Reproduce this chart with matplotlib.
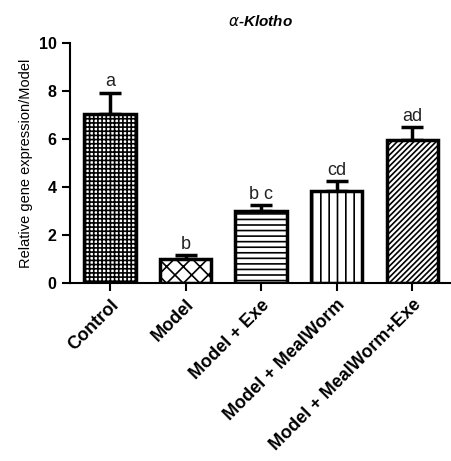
import matplotlib.pyplot as plt

plt.rcParams['font.family'] = ['Liberation Sans', 'DejaVu Sans']
plt.rcParams['hatch.linewidth'] = 1.2

groups = ['Control', 'Model', 'Model + Exe', 'Model + MealWorm', 'Model + MealWorm+Exe']
means = [7.05, 1.0, 3.0, 3.83, 5.96]
sems = [0.87, 0.16, 0.23, 0.4, 0.52]
letters = ['a', 'b', 'b c', 'cd', 'ad']
hatches = ['++++', 'xx', '---', '||', '//////']

fig = plt.figure(figsize=(4.51, 4.61), dpi=100)
ax = fig.add_axes([0.155, 0.386, 0.843, 0.521])

x = list(range(len(groups)))
# upward error bars only
ax.errorbar(x, means, yerr=[[0] * len(sems), sems], fmt='none', ecolor='black',
            elinewidth=2.5, capsize=8, capthick=2.5, zorder=1)
bars = ax.bar(x, means, width=0.68, color='white', edgecolor='black', linewidth=2.5, zorder=2)
for b, h in zip(bars, hatches):
    b.set_hatch(h)
for i, (m, s) in enumerate(zip(means, sems)):
    ax.text(i, m + s + 0.1, letters[i], ha='center', va='bottom', fontsize=13, color='#222222')

ax.set_xlim(-0.53, 4.5)
ax.set_ylim(0, 10)
ax.set_yticks([0, 2, 4, 6, 8, 10])
ax.set_xticks(x)
ax.set_xticklabels(groups, rotation=45, ha='right', rotation_mode='anchor', fontsize=13, fontweight='bold')
for lab in ax.get_yticklabels():
    lab.set_fontweight('bold')
    lab.set_fontsize(11.5)
ax.tick_params(axis='both', direction='out', length=6, width=1.5)
ax.spines['top'].set_visible(False)
ax.spines['right'].set_visible(False)
ax.spines['left'].set_linewidth(1.5)
ax.spines['bottom'].set_linewidth(1.5)
ax.set_ylabel('Relative gene expression/Model', fontsize=10.5)
ax.set_title(r'$\alpha$-Klotho', fontsize=11, fontstyle='italic', fontweight='bold', pad=12)

fig.savefig('out.png', dpi=100)
